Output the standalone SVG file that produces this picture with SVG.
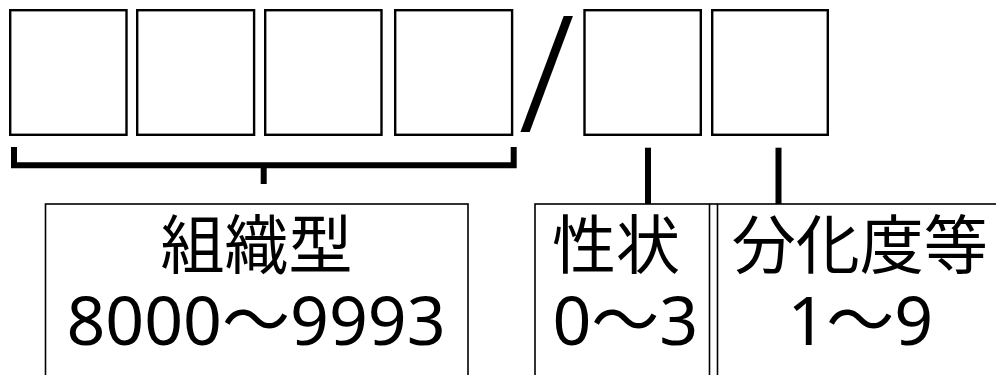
<svg xmlns="http://www.w3.org/2000/svg" width="996" height="375" viewBox="0 0 996 375">
<style>
.cell{fill:#fff;stroke:#000;stroke-width:2.4}
.box{fill:#fff;stroke:#000;stroke-width:1.6}
.conn{fill:none;stroke:#000;stroke-width:6;stroke-linecap:butt;stroke-linejoin:miter}
.cj{font-family:"Noto Sans CJK JP","Noto Sans",sans-serif;font-size:64px;fill:#000;text-anchor:middle}
.num{font-family:"Noto Sans","Noto Sans CJK JP",sans-serif;font-size:68px;fill:#000;text-anchor:middle}
</style>
<rect width="996" height="375" fill="#fff"/>
<g id="cell1"><rect class="cell" x="10.2" y="10.2" width="116.3" height="124.6"/></g>
<g id="cell2"><rect class="cell" x="137.2" y="10.2" width="116.9" height="124.6"/></g>
<g id="cell3"><rect class="cell" x="265.2" y="10.2" width="116.3" height="124.6"/></g>
<g id="cell4"><rect class="cell" x="395.2" y="10.2" width="116.9" height="124.6"/></g>
<g id="slash"><text x="518.4" y="132" font-family="Noto Sans, sans-serif" font-size="162" font-weight="300" fill="#000">/</text></g>
<g id="cell5"><rect class="cell" x="584.5" y="10.2" width="116.3" height="124.6"/></g>
<g id="cell6"><rect class="cell" x="712.2" y="10.2" width="115.6" height="124.6"/></g>
<g id="connectors">
<path class="conn" d="M14,147 V165.3 H513.7 V147"/>
<path class="conn" d="M263.7,165 V184"/>
<path class="conn" d="M648,147.7 V204"/>
<path class="conn" d="M778.5,147.7 V204"/>
</g>
<g id="histology">
<rect class="box" x="45.5" y="204" width="422.5" height="190"/>
<text class="cj" x="256.5" y="268">組織型</text>
<text class="num" x="256" y="344.5">8000～9993</text>
</g>
<g id="behavior">
<rect class="box" x="535" y="204" width="174.5" height="190"/>
<text class="cj" x="616" y="268">性状</text>
<text class="num" x="625.3" y="344.5">0～3</text>
</g>
<g id="grade">
<path class="box" d="M709.5,204 H717.5"/>
<rect class="box" x="717.5" y="204" width="300" height="190"/>
<text class="cj" x="859.7" y="268">分化度等</text>
<text class="num" x="860.3" y="344.5">1～9</text>
</g>
</svg>
